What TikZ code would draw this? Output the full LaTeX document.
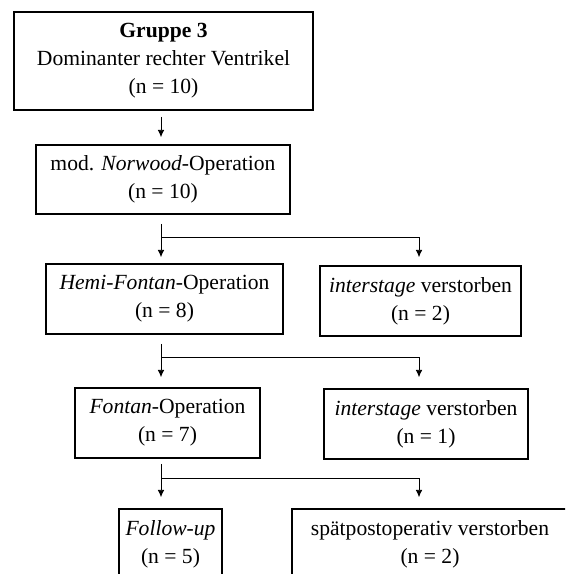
\documentclass[tikz,border=0pt]{standalone}
\usepackage{fontspec}
\setmainfont{Liberation Serif}
\usepackage{tikz}
\usetikzlibrary{arrows.meta}

\tikzset{
  box/.style={draw, line width=1.2pt, align=center, inner sep=0.75pt,
    minimum height=52.5pt, font=\fontsize{16.2}{21}\selectfont},
  link/.style={line width=0.6pt},
  arr/.style={link, -{Latex[length=5.5pt,width=5pt]}},
}

\begin{document}
\begin{tikzpicture}[x=0.75pt,y=0.75pt,yscale=-1,xscale=1]
        \clip (0,0) rectangle (565,574);
        \fill[white] (0,0) rectangle (565,574);
        \coordinate (spine) at (161,0);
        % boxes
        \node[box, minimum width=224.25pt, minimum height=73.5pt] (gruppe) at (163.5,61) {\textbf{Gruppe 3}\\Dominanter rechter Ventrikel\\(n = 10)};
        \node[box, minimum width=190.5pt, minimum height=51.75pt] (norwood) at (163,179.5) {mod. \textit{Norwood}-Operation\\(n = 10)};
        \node[box, minimum width=177.75pt] (hemi) at (164.5,299) {\textit{Hemi-Fontan}-Operation\\(n = 8)};
        \node[box, minimum width=150.75pt] (interA) at (420.5,301) {\textit{interstage} verstorben\\(n = 2)};
        \node[box, minimum width=138.75pt] (fontan) at (167.5,423) {\textit{Fontan}-Operation\\(n = 7)};
        \node[box, minimum width=153pt] (interB) at (426,424) {\textit{interstage} verstorben\\(n = 1)};
        \node[box, minimum width=77.25pt] (followup) at (170.5,544) {\textit{Follow-up}\\(n = 5)};
        \node[box, minimum width=207pt] (spaet) at (430,544) {spätpostoperativ verstorben\\(n = 2)};
        % arrows
        \draw[arr, shorten <=4.5pt, shorten >=5.25pt] (gruppe.south -| spine) -- (norwood.north -| spine);
        \coordinate (b1) at (161,237);
        \draw[arr, shorten <=6.75pt, shorten >=4.5pt] (norwood.south -| spine) -- (hemi.north -| spine);
        \draw[arr, shorten >=6pt] (b1) -| (interA.north -| 419,0);
        \coordinate (b2) at (161,357);
        \draw[arr, shorten <=6.75pt, shorten >=7.5pt] (hemi.south -| spine) -- (fontan.north -| spine);
        \draw[arr, shorten >=8.25pt] (b2) -| (interB.north -| 419,0);
        \coordinate (b3) at (161,478);
        \draw[arr, shorten <=3.75pt, shorten >=8.25pt] (fontan.south -| spine) -- (followup.north -| spine);
        \draw[arr, shorten >=8.25pt] (b3) -| (spaet.north -| 419,0);
    \end{tikzpicture}
\end{document}
